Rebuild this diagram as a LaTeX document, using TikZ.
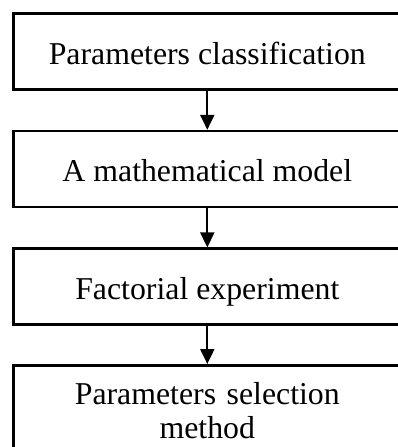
\documentclass[tikz,border=0pt]{standalone}
\usepackage{fontspec}
\setmainfont{Liberation Serif}
\usetikzlibrary{arrows.meta,positioning}

\begin{document}
\begin{tikzpicture}
    \tikzstyle{stage}=[rectangle, draw=black, line width=2.6pt, minimum width=388pt, minimum height=76pt, font=\fontsize{31.8pt}{34pt}\selectfont]
    \tikzstyle{one}=[stage, text height=25pt, text depth=0pt]
    \tikzstyle{two}=[stage, text width=360pt, align=center, inner ysep=17pt]
    \tikzstyle{connect}=[-{Triangle[length=15pt,width=14pt]}, line width=2pt]
    \useasboundingbox (0,0) rectangle (398pt,-447pt);
    \node[one] (classif) at (207.3pt,-51.5pt) {Parameters classification};
    \node[one,node distance=39pt] (model) [below=of classif] {A mathematical model};
    \node[one,node distance=39pt] (factor) [below=of model] {Factorial experiment};
    \node[two,node distance=38pt] (select) [below=of factor] {Parameters selection\\method};
    \path (classif) edge [connect] (model)
    (model) edge [connect] (factor)
    (factor) edge [connect] (select);
  \end{tikzpicture}
\end{document}
